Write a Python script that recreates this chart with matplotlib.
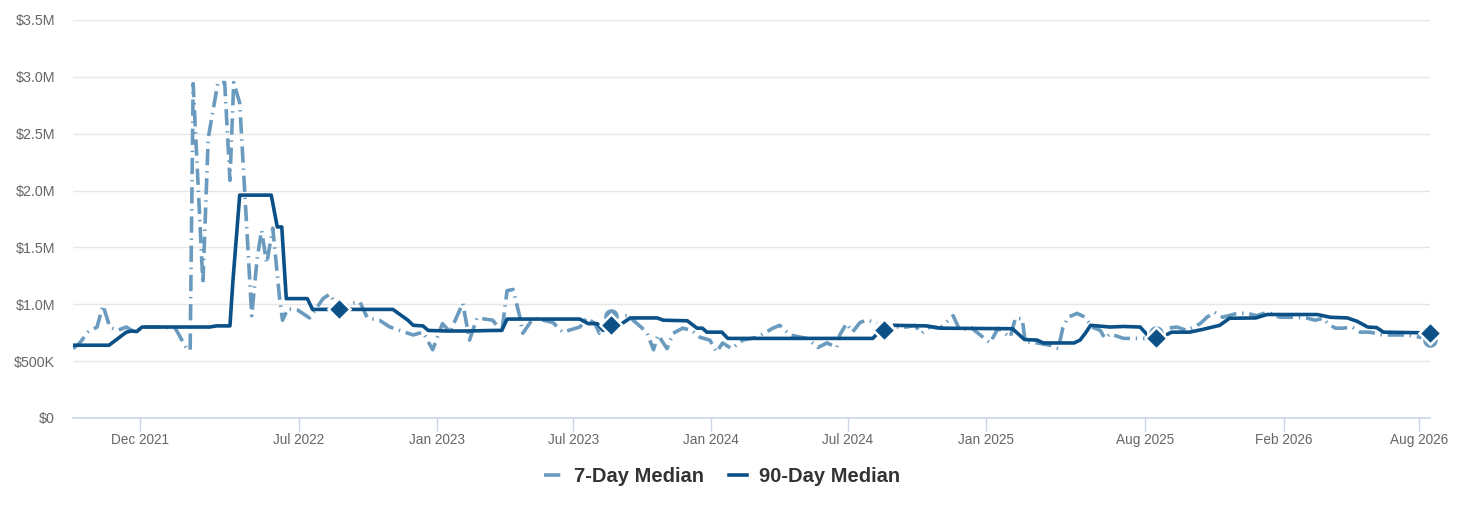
import matplotlib
matplotlib.use("Agg")
import matplotlib.pyplot as plt
import matplotlib.dates as mdates
from matplotlib.ticker import FuncFormatter
import pandas as pd

plt.rcParams['font.family'] = ['Liberation Sans', 'DejaVu Sans']

# 7-day median (in $M)
week_dates = [
    "2021-09-03", "2021-09-12", "2021-09-23", "2021-10-05", "2021-10-13", "2021-10-22",
    "2021-11-01", "2021-11-13", "2021-11-24", "2021-12-04", "2021-12-28", "2022-01-17",
    "2022-01-21", "2022-02-02", "2022-02-06", "2022-02-10", "2022-02-23", "2022-03-02",
    "2022-03-15", "2022-03-24", "2022-03-31", "2022-04-05", "2022-04-13", "2022-04-29",
    "2022-05-06", "2022-05-12", "2022-05-19", "2022-05-27", "2022-06-05", "2022-06-09",
    "2022-06-16", "2022-06-29", "2022-07-15", "2022-08-02", "2022-08-11", "2022-08-23",
    "2022-09-09", "2022-09-20", "2022-09-30", "2022-10-16", "2022-10-30", "2022-11-12",
    "2022-11-30", "2022-12-13", "2022-12-26", "2023-01-08", "2023-01-18", "2023-02-04",
    "2023-02-13", "2023-02-23", "2023-03-16", "2023-03-28", "2023-04-04", "2023-04-12",
    "2023-04-21", "2023-04-25", "2023-05-09", "2023-06-04", "2023-06-17", "2023-07-10",
    "2023-07-19", "2023-07-30", "2023-08-05", "2023-08-21", "2023-09-12", "2023-10-01",
    "2023-10-07", "2023-10-16", "2023-10-22", "2023-11-03", "2023-11-11", "2023-11-24",
    "2023-12-06", "2023-12-17", "2023-12-30", "2024-01-08", "2024-01-16", "2024-01-28",
    "2024-02-12", "2024-03-02", "2024-03-23", "2024-04-01", "2024-04-15", "2024-05-07",
    "2024-05-22", "2024-06-03", "2024-06-16", "2024-06-20", "2024-06-29", "2024-07-07",
    "2024-07-17", "2024-07-26", "2024-08-08", "2024-08-18", "2024-09-04", "2024-09-17",
    "2024-09-28", "2024-10-07", "2024-10-18", "2024-11-01", "2024-11-18", "2024-11-27",
    "2024-12-11", "2024-12-24", "2025-01-06", "2025-01-17", "2025-02-02", "2025-02-09",
    "2025-02-18", "2025-02-22", "2025-03-10", "2025-03-27", "2025-04-07", "2025-04-13",
    "2025-04-20", "2025-05-02", "2025-05-13", "2025-05-22", "2025-06-02", "2025-06-08",
    "2025-06-15", "2025-07-03", "2025-07-21", "2025-08-03", "2025-08-15", "2025-08-30",
    "2025-09-12", "2025-09-25", "2025-10-13", "2025-10-22", "2025-11-01", "2025-11-12",
    "2025-12-01", "2025-12-15", "2025-12-27", "2026-01-11", "2026-01-27", "2026-02-19",
    "2026-03-05", "2026-03-15", "2026-03-26", "2026-04-01", "2026-04-11", "2026-04-21",
    "2026-05-03", "2026-05-14", "2026-05-27", "2026-06-13", "2026-06-27", "2026-07-15",
    "2026-08-02", "2026-08-15",
]
week_values = [
    0.61, 0.66, 0.755, 0.80, 0.99, 0.80,
    0.77, 0.80, 0.755, 0.80, 0.80, 0.79,
    0.745, 0.60, 0.60, 2.94, 1.18, 2.46,
    2.95, 2.95, 2.09, 2.95, 2.77, 0.90,
    1.39, 1.65, 1.36, 1.67, 1.06, 0.86,
    0.96, 0.95, 0.88, 1.05, 1.09, 0.955,
    1.01, 1.02, 0.88, 0.86, 0.80, 0.77,
    0.73, 0.755, 0.60, 0.83, 0.755, 1.01,
    0.685, 0.88, 0.86, 0.755, 1.12, 1.13,
    0.89, 0.745, 0.88, 0.84, 0.755, 0.80,
    0.88, 0.83, 0.745, 0.90, 0.90, 0.79,
    0.755, 0.60, 0.73, 0.61, 0.745, 0.79,
    0.77, 0.71, 0.685, 0.58, 0.66, 0.61,
    0.685, 0.71, 0.79, 0.815, 0.73, 0.70,
    0.62, 0.66, 0.62, 0.73, 0.83, 0.755,
    0.84, 0.86, 0.84, 0.79, 0.80, 0.80,
    0.815, 0.745, 0.80, 0.79, 0.90, 0.77,
    0.80, 0.73, 0.66, 0.79, 0.71, 0.88,
    0.87, 0.67, 0.66, 0.64, 0.61, 0.79,
    0.886, 0.92, 0.886, 0.80, 0.77, 0.70,
    0.74, 0.70, 0.70, 0.70, 0.745, 0.79,
    0.80, 0.77, 0.83, 0.886, 0.93, 0.886,
    0.92, 0.92, 0.90, 0.93, 0.886, 0.886,
    0.877, 0.86, 0.877, 0.83, 0.79, 0.79,
    0.80, 0.755, 0.755, 0.73, 0.73, 0.73,
    0.71, 0.685,
]

# 90-day median (in $M)
q_dates = [
    "2021-09-03", "2021-10-21", "2021-11-13", "2021-11-20", "2021-11-27", "2021-12-04",
    "2022-03-04", "2022-03-13", "2022-03-31", "2022-04-04", "2022-04-13", "2022-05-25",
    "2022-06-02", "2022-06-08", "2022-06-14", "2022-07-12", "2022-07-19", "2022-08-23",
    "2022-11-03", "2022-11-23", "2022-11-30", "2022-12-13", "2022-12-20", "2023-01-14",
    "2023-02-09", "2023-03-16", "2023-03-28", "2023-04-04", "2023-07-10", "2023-07-21",
    "2023-08-02", "2023-08-10", "2023-08-21", "2023-09-04", "2023-09-15", "2023-10-21",
    "2023-10-29", "2023-11-30", "2023-12-13", "2023-12-20", "2023-12-26", "2024-01-15",
    "2024-01-23", "2024-08-03", "2024-08-08", "2024-08-18", "2024-08-30", "2024-10-14",
    "2024-11-01", "2025-02-05", "2025-02-21", "2025-03-10", "2025-03-18", "2025-04-28",
    "2025-05-06", "2025-05-13", "2025-05-20", "2025-06-15", "2025-07-03", "2025-07-25",
    "2025-08-03", "2025-08-15", "2025-08-30", "2025-09-05", "2025-09-29", "2025-10-17",
    "2025-11-08", "2025-11-21", "2025-12-26", "2026-01-10", "2026-03-18", "2026-04-04",
    "2026-04-27", "2026-05-10", "2026-05-24", "2026-06-05", "2026-06-14", "2026-07-30",
    "2026-08-04", "2026-08-15",
]
q_values = [
    0.64, 0.64, 0.755, 0.765, 0.76, 0.80,
    0.80, 0.81, 0.81, 1.21, 1.96, 1.96,
    1.68, 1.68, 1.05, 1.05, 0.955, 0.955,
    0.955, 0.86, 0.815, 0.81, 0.77, 0.765,
    0.765, 0.77, 0.77, 0.87, 0.87, 0.83,
    0.83, 0.77, 0.815, 0.83, 0.88, 0.88,
    0.86, 0.855, 0.79, 0.79, 0.755, 0.755,
    0.70, 0.70, 0.735, 0.77, 0.815, 0.81,
    0.79, 0.785, 0.69, 0.685, 0.66, 0.66,
    0.685, 0.745, 0.815, 0.80, 0.805, 0.80,
    0.735, 0.70, 0.735, 0.755, 0.755, 0.78,
    0.815, 0.877, 0.88, 0.91, 0.91, 0.886,
    0.88, 0.85, 0.80, 0.795, 0.755, 0.75,
    0.745, 0.745,
]

# yearly highlighted points
mark_dates = ["2022-08-23", "2023-08-21", "2024-08-18", "2025-08-15", "2026-08-15"]
mark_week = [0.955, 0.90, 0.79, 0.745, 0.685]
mark_q = [0.955, 0.815, 0.77, 0.70, 0.745]

tick_dates = ["2021-12-01", "2022-07-01", "2023-01-01", "2023-07-01", "2024-01-01",
              "2024-07-01", "2025-01-01", "2025-08-01", "2026-02-01", "2026-08-01"]
y_ticks = [0, 0.5, 1.0, 1.5, 2.0, 2.5, 3.0, 3.5]

light = "#6a9bbf"
dark = "#0b5086"

fig = plt.figure(figsize=(14.69, 5.07), dpi=100)
ax = fig.add_axes([73 / 1469, 89 / 507, (1430 - 73) / 1469, 398 / 507])

wd = pd.to_datetime(week_dates)
qd = pd.to_datetime(q_dates)
md = pd.to_datetime(mark_dates)

ax.plot(wd, week_values, color=light, lw=2.6, linestyle=(0, (4.5, 1.6, 0.4, 1.6)),
        label="7-Day Median", zorder=3)
ax.plot(qd, q_values, color=dark, lw=2.6, label="90-Day Median", zorder=4)
ax.plot(md, mark_week, "o", color=light, ms=12, mec="white", mew=1.5, zorder=5, clip_on=False)
ax.plot(md, mark_q, "D", color=dark, ms=11, mec="white", mew=1.8, zorder=6, clip_on=False)

ax.set_xlim(wd[0], wd[-1])
ax.set_ylim(0, 3.5)
ax.set_yticks(y_ticks)


def money(v, pos):
    if v == 0:
        return "$0"
    if v < 1:
        return "$%dK" % round(v * 1000)
    return "$%.1fM" % v


ax.yaxis.set_major_formatter(FuncFormatter(money))
ax.set_xticks(pd.to_datetime(tick_dates))
ax.xaxis.set_major_formatter(mdates.DateFormatter("%b %Y"))

ax.grid(axis="y", color="#e6e6e6", lw=1)
ax.set_axisbelow(True)
for s in ["top", "right", "left"]:
    ax.spines[s].set_visible(False)
ax.spines["bottom"].set_color("#ccd6eb")
ax.spines["bottom"].set_linewidth(1.2)
ax.tick_params(axis="y", length=0, pad=13, labelsize=10.3, labelcolor="#666666")
ax.tick_params(axis="x", length=9, color="#ccd6eb", width=1, pad=2, labelsize=9.8,
               labelcolor="#666666")

leg = fig.legend(loc="center", bbox_to_anchor=(0.4915, 0.06), ncol=2, frameon=False,
                 handlelength=0.9, columnspacing=1.2, handletextpad=0.6,
                 prop={"weight": "bold", "size": 14.5})
for t in leg.get_texts():
    t.set_color("#333333")

fig.savefig("out.png", dpi=100)
